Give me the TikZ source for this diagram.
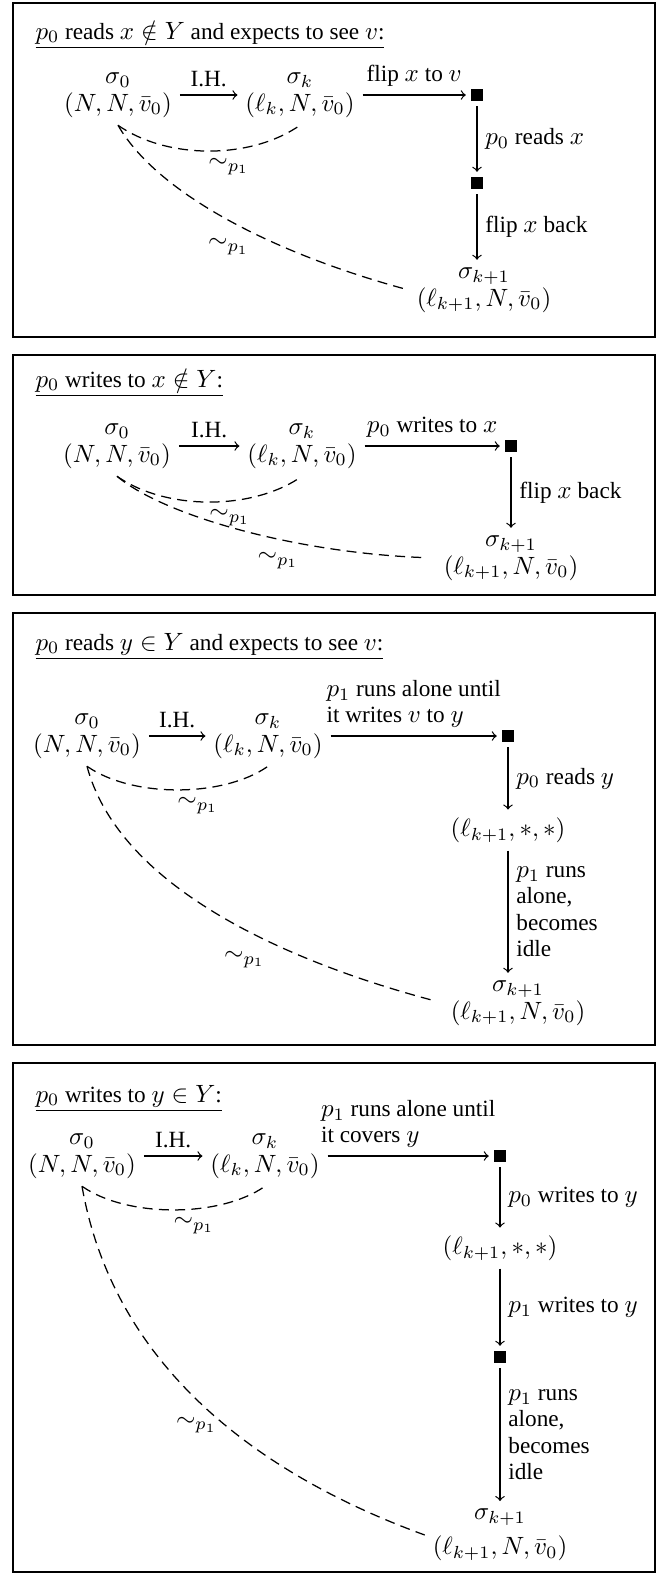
\documentclass[tikz,border=0pt]{standalone}
\usepackage[no-math]{fontspec}
\setmainfont{Liberation Serif}[Scale=0.93]

\begin{document}
\begin{tikzpicture}[x=0.4pt, y=-0.4pt,
  every node/.style={font=\fontsize{10}{11}\selectfont},
  state/.style={align=center, inner sep=3pt},
  dot/.style={rectangle, fill=black, minimum size=5pt, inner sep=0pt, outer sep=2pt},
  frame/.style={draw, line width=0.9pt},
  heading/.style={anchor=base west, inner sep=0pt},
  move/.style={->, line width=0.5pt},
  sim/.style={line width=0.5pt, dash pattern=on 4pt off 2.5pt},
  lbl/.style={align=left, font=\fontsize{10}{10.5}\selectfont}
]
  \useasboundingbox (0,0) rectangle (667,1574);

  \draw[frame] (13,3) rectangle (655,337);
  \node[heading] (ta) at (35,39) {\underline{$p_0$ reads $x\notin Y$ and expects to see $v$:}};
  \node[state] (a0) at (118,95) {$\sigma_0$\\$(N,N,\bar v_0)$};
  \node[state] (ak) at (300,95) {$\sigma_k$\\$(\ell_k,N,\bar v_0)$};
  \node[dot] (ap) at (477,95) {};
  \node[dot] (aq) at (477,183) {};
  \node[state] (a1) at (484,290) {$\sigma_{k+1}$\\$(\ell_{k+1},N,\bar v_0)$};
  \draw[move] (a0) -- node[above] {I.H.} (ak);
  \draw[move] (ak) -- node[above] {flip $x$ to $v$} (ap);
  \draw[move] (ap) -- node[right] {$p_0$ reads $x$} (aq);
  \draw[move] (aq) -- node[right] {flip $x$ back} (aq |- a1.north);
  \draw[sim] (a0.south) .. controls +(-35:24pt) and +(-145:24pt) .. node[pos=0.6, below] {$\sim_{p_1}$} (ak.south);
  \draw[sim] (a0.south) .. controls +(-60:32pt) and +(165:55pt) .. node[pos=0.5, below=4pt] {$\sim_{p_1}$} (a1.west);

  \draw[frame] (13,355) rectangle (655,595);
  \node[heading] (tb) at (35,387) {\underline{$p_0$ writes to $x\notin Y$:}};
  \node[state] (b0) at (117,446) {$\sigma_0$\\$(N,N,\bar v_0)$};
  \node[state] (bk) at (302,446) {$\sigma_k$\\$(\ell_k,N,\bar v_0)$};
  \node[dot] (bp) at (511,446) {};
  \node[state] (b1) at (511,558) {$\sigma_{k+1}$\\$(\ell_{k+1},N,\bar v_0)$};
  \draw[move] (b0) -- node[above] {I.H.} (bk);
  \draw[move] (bk) -- node[above] {$p_0$ writes to $x$} (bp);
  \draw[move] (bp) -- node[right] {flip $x$ back} (bp |- b1.north);
  \draw[sim] (b0.south) .. controls +(-35:24pt) and +(-145:24pt) .. node[pos=0.6, below] {$\sim_{p_1}$} (bk.south);
  \draw[sim, shorten >=4pt] (b0.south) .. controls +(-40:25pt) and +(178:55pt) .. node[pos=0.6, below=2pt] {$\sim_{p_1}$} (b1.west);

  \draw[frame] (13,613) rectangle (655,1045);
  \node[heading] (tc) at (35,650) {\underline{$p_0$ reads $y\in Y$ and expects to see $v$:}};
  \node[state] (c0) at (87,736) {$\sigma_0$\\$(N,N,\bar v_0)$};
  \node[state] (ck) at (268,736) {$\sigma_k$\\$(\ell_k,N,\bar v_0)$};
  \node[dot] (cp) at (508,736) {};
  \node[state] (cm) at (508,830) {$(\ell_{k+1},*,*)$};
  \node[state] (c1) at (518,1003) {$\sigma_{k+1}$\\$(\ell_{k+1},N,\bar v_0)$};
  \draw[move] (c0) -- node[above] {I.H.} (ck);
  \draw[move] (ck) -- node[above, lbl] {$p_1$ runs alone until\\it writes $v$ to $y$} (cp);
  \draw[move] (cp) -- node[right] {$p_0$ reads $y$} (cm);
  \draw[move] (cm) -- node[right, lbl] {$p_1$ runs\\alone,\\becomes\\idle} (cm |- c1.north);
  \draw[sim] (c0.south) .. controls +(-35:22pt) and +(-145:22pt) .. node[pos=0.6, below] {$\sim_{p_1}$} (ck.south);
  \draw[sim, shorten >=5pt] (c0.south) .. controls +(-75:52pt) and +(165:60pt) .. node[pos=0.62, below left] {$\sim_{p_1}$} (c1.west);

  \draw[frame] (13,1063) rectangle (655,1572);
  \node[heading] (td) at (35,1102) {\underline{$p_0$ writes to $y\in Y$:}};
  \node[state] (d0) at (82,1156) {$\sigma_0$\\$(N,N,\bar v_0)$};
  \node[state] (dk) at (265,1156) {$\sigma_k$\\$(\ell_k,N,\bar v_0)$};
  \node[dot] (dp) at (500,1156) {};
  \node[state] (dm) at (500,1248) {$(\ell_{k+1},*,*)$};
  \node[dot] (dq) at (500,1357) {};
  \node[state] (d1) at (500,1535) {$\sigma_{k+1}$\\[3pt]$(\ell_{k+1},N,\bar v_0)$};
  \draw[move] (d0) -- node[above] {I.H.} (dk);
  \draw[move] (dk) -- node[above, lbl] {$p_1$ runs alone until\\it covers $y$} (dp);
  \draw[move] (dp) -- node[right] {$p_0$ writes to $y$} (dm);
  \draw[move] (dm) -- node[right] {$p_1$ writes to $y$} (dq);
  \draw[move] (dq) -- node[right, lbl] {$p_1$ runs\\alone,\\becomes\\idle} (d1);
  \draw[sim] (d0.south) .. controls +(-35:22pt) and +(-145:22pt) .. node[pos=0.6, below] {$\sim_{p_1}$} (dk.south);
  \draw[sim] (d0.south) .. controls +(-80:80pt) and +(160:60pt) .. node[pos=0.53, left] {$\sim_{p_1}$} (d1.west);
\end{tikzpicture}
\end{document}
